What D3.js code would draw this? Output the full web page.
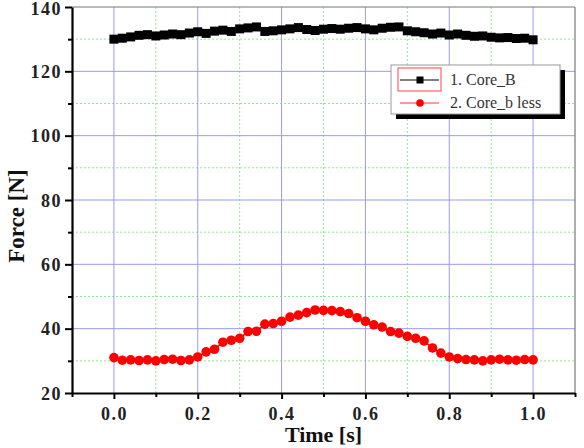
<!DOCTYPE html>
<html lang="en">
<head>
  <meta charset="UTF-8">
  <title>Force vs Time</title>
  <style>
    * { margin: 0; padding: 0; box-sizing: border-box; }
    body { background: #fff; }
    #chart { width: 584px; height: 448px; }
    .tick-label { font-family: "Liberation Serif", "Times New Roman", serif; font-weight: bold; font-size: 18px; letter-spacing: 1.5px; fill: #222; }
    .axis-title { font-family: "Liberation Serif", "Times New Roman", serif; font-weight: bold; font-size: 22px; fill: #111; }
    .legend-text { font-family: "Liberation Serif", "Times New Roman", serif; font-size: 16px; fill: #333; }
  </style>
</head>
<body>
  <div id="chart"></div>

  <script src="https://d3js.org/d3.v7.min.js"></script>
  <script>
    // data
    const time = [0.00, 0.02, 0.04, 0.06, 0.08, 0.10, 0.12, 0.14, 0.16, 0.18,
                  0.20, 0.22, 0.24, 0.26, 0.28, 0.30, 0.32, 0.34, 0.36, 0.38,
                  0.40, 0.42, 0.44, 0.46, 0.48, 0.50, 0.52, 0.54, 0.56, 0.58,
                  0.60, 0.62, 0.64, 0.66, 0.68, 0.70, 0.72, 0.74, 0.76, 0.78,
                  0.80, 0.82, 0.84, 0.86, 0.88, 0.90, 0.92, 0.94, 0.96, 0.98, 1.00];

    const coreB = [130.0, 130.3, 130.7, 131.2, 131.4, 131.0, 131.3, 131.6, 131.4, 131.9,
                   132.3, 131.8, 132.5, 132.8, 132.4, 133.2, 133.5, 133.8, 132.4, 132.6,
                   132.9, 133.2, 133.6, 133.0, 132.7, 133.1, 133.3, 133.1, 133.4, 133.6,
                   133.2, 132.9, 133.4, 133.7, 133.8, 132.6, 132.3, 132.0, 131.6, 131.9,
                   131.3, 131.6, 131.2, 130.9, 131.0, 130.6, 130.4, 130.5, 130.2, 130.3, 129.8];

    const coreBLess = [31.0, 30.2, 30.3, 30.1, 30.3, 30.0, 30.4, 30.5, 30.1, 30.3,
                       31.2, 32.8, 33.6, 35.8, 36.4, 37.0, 39.1, 39.2, 41.4, 41.6,
                       42.3, 43.6, 44.2, 45.0, 45.8, 45.7, 45.6, 45.3, 44.7, 43.4,
                       42.3, 41.2, 40.5, 39.1, 38.6, 37.6, 37.0, 36.2, 34.0, 32.4,
                       31.2, 30.7, 30.4, 30.3, 30.0, 30.3, 30.5, 30.3, 30.2, 30.4, 30.3];

    const xMajor = [0.0, 0.2, 0.4, 0.6, 0.8, 1.0];
    const xMinor = [-0.1, 0.1, 0.3, 0.5, 0.7, 0.9, 1.1];
    const yMajor = [20, 40, 60, 80, 100, 120, 140];
    const yMinor = [30, 50, 70, 90, 110, 130];

    const seriesNames = ["1. Core_B", "2. Core_b less"];

    const width = 584;
    const height = 448;
    const margin = { top: 7, right: 9, bottom: 55, left: 72 };

    const svg = d3.select("#chart")
      .append("svg")
      .attr("width", width)
      .attr("height", height);

    const x = d3.scaleLinear().domain([-0.1, 1.1]).range([margin.left, width - margin.right]);
    const y = d3.scaleLinear().domain([20, 140]).range([height - margin.bottom, margin.top]);

    // grid lines
    const grid = svg.append("g");
    grid.selectAll(".gx-minor")
      .data(xMinor.slice(1, -1))
      .join("line")
      .attr("x1", d => x(d)).attr("x2", d => x(d))
      .attr("y1", y(20)).attr("y2", y(140))
      .attr("stroke", "#8fe88f").attr("stroke-dasharray", "2,2");
    grid.selectAll(".gy-minor")
      .data(yMinor)
      .join("line")
      .attr("x1", x(-0.1)).attr("x2", x(1.1))
      .attr("y1", d => y(d)).attr("y2", d => y(d))
      .attr("stroke", "#8fe88f").attr("stroke-dasharray", "2,2");
    grid.selectAll(".gx-major")
      .data(xMajor)
      .join("line")
      .attr("x1", d => x(d)).attr("x2", d => x(d))
      .attr("y1", y(20)).attr("y2", y(140))
      .attr("stroke", "#9a9af2");
    grid.selectAll(".gy-major")
      .data(yMajor.slice(1, -1))
      .join("line")
      .attr("x1", x(-0.1)).attr("x2", x(1.1))
      .attr("y1", d => y(d)).attr("y2", d => y(d))
      .attr("stroke", "#9a9af2");

    // frame: top and right thin
    svg.append("line")
      .attr("x1", x(-0.1)).attr("x2", x(1.1)).attr("y1", y(140)).attr("y2", y(140))
      .attr("stroke", "#777").attr("stroke-width", 1.2);
    svg.append("line")
      .attr("x1", x(1.1)).attr("x2", x(1.1)).attr("y1", y(140)).attr("y2", y(20))
      .attr("stroke", "#777").attr("stroke-width", 1.2);

    // series
    const line = d3.line().x(d => x(d[0])).y(d => y(d[1]));
    const blackPts = time.map((t, i) => [t, coreB[i]]);
    const redPts = time.map((t, i) => [t, coreBLess[i]]);

    svg.append("path").datum(blackPts)
      .attr("d", line).attr("fill", "none").attr("stroke", "#000").attr("stroke-width", 2);
    svg.append("g").selectAll("rect")
      .data(blackPts)
      .join("rect")
      .attr("x", d => x(d[0]) - 4.5).attr("y", d => y(d[1]) - 4.5)
      .attr("width", 9).attr("height", 9)
      .attr("fill", "#000");

    svg.append("path").datum(redPts)
      .attr("d", line).attr("fill", "none").attr("stroke", "#f00").attr("stroke-width", 1.5);
    svg.append("g").selectAll("circle")
      .data(redPts)
      .join("circle")
      .attr("cx", d => x(d[0])).attr("cy", d => y(d[1]))
      .attr("r", 4.8)
      .attr("fill", "#f00");

    // axes
    const xAxis = svg.append("g")
      .attr("transform", `translate(0,${y(20)})`)
      .call(d3.axisBottom(x).tickValues(xMajor).tickFormat(d3.format(".1f")).tickSize(6).tickSizeOuter(0));
    svg.append("g")
      .attr("transform", `translate(0,${y(20)})`)
      .call(d3.axisBottom(x).tickValues(xMinor).tickFormat("").tickSize(4).tickSizeOuter(0))
      .call(g => g.select(".domain").remove());

    const yAxis = svg.append("g")
      .attr("transform", `translate(${x(-0.1)},0)`)
      .call(d3.axisLeft(y).tickValues(yMajor).tickSize(7).tickSizeOuter(0));
    svg.append("g")
      .attr("transform", `translate(${x(-0.1)},0)`)
      .call(d3.axisLeft(y).tickValues(yMinor).tickFormat("").tickSize(4).tickSizeOuter(0))
      .call(g => g.select(".domain").remove());

    svg.selectAll(".domain").attr("stroke", "#000").attr("stroke-width", 2.2);
    svg.selectAll(".tick line").attr("stroke", "#000").attr("stroke-width", 2);

    xAxis.selectAll(".tick text")
      .attr("class", "tick-label")
      .attr("y", 14)
      .attr("dy", "0.71em");
    yAxis.selectAll(".tick text")
      .attr("class", "tick-label")
      .attr("x", -10)
      .attr("dy", "0.34em")
      .filter(d => d === 140)
      .attr("dy", "0.42em");
    svg.selectAll("g[font-size]").attr("font-size", null).attr("font-family", null);

    // axis titles
    svg.append("text")
      .attr("class", "axis-title")
      .attr("x", (x(-0.1) + x(1.1)) / 2)
      .attr("y", 442)
      .attr("text-anchor", "middle")
      .text("Time [s]");

    svg.append("text")
      .attr("class", "axis-title")
      .style("font-size", "23px")
      .attr("transform", `translate(24,216) rotate(-90)`)
      .attr("text-anchor", "middle")
      .text("Force [N]");

    // legend
    const legend = svg.append("g").attr("transform", "translate(391,65)");
    legend.append("rect")
      .attr("x", 5).attr("y", 5).attr("width", 169).attr("height", 49)
      .attr("fill", "#000");
    legend.append("rect")
      .attr("x", 0).attr("y", 0).attr("width", 169).attr("height", 49)
      .attr("fill", "#fff").attr("stroke", "#999");
    legend.append("rect")
      .attr("x", 7).attr("y", 3).attr("width", 43).attr("height", 23)
      .attr("fill", "none").attr("stroke", "#f44");

    const rows = legend.selectAll(".row")
      .data(seriesNames)
      .join("g")
      .attr("transform", (d, i) => `translate(0,${15 + i * 23})`);
    rows.append("line")
      .attr("x1", 9).attr("x2", 48).attr("y1", 0).attr("y2", 0)
      .attr("stroke", (d, i) => i === 0 ? "#000" : "#f33").attr("stroke-width", 1);
    rows.filter((d, i) => i === 0).append("rect")
      .attr("x", 25.5).attr("y", -3.5).attr("width", 7).attr("height", 7).attr("fill", "#000");
    rows.filter((d, i) => i === 1).append("circle")
      .attr("cx", 29).attr("cy", 0).attr("r", 3.8).attr("fill", "#f00");
    rows.append("text")
      .attr("class", "legend-text")
      .attr("x", 59).attr("y", 5)
      .text(d => d);
  </script>
</body>
</html>
